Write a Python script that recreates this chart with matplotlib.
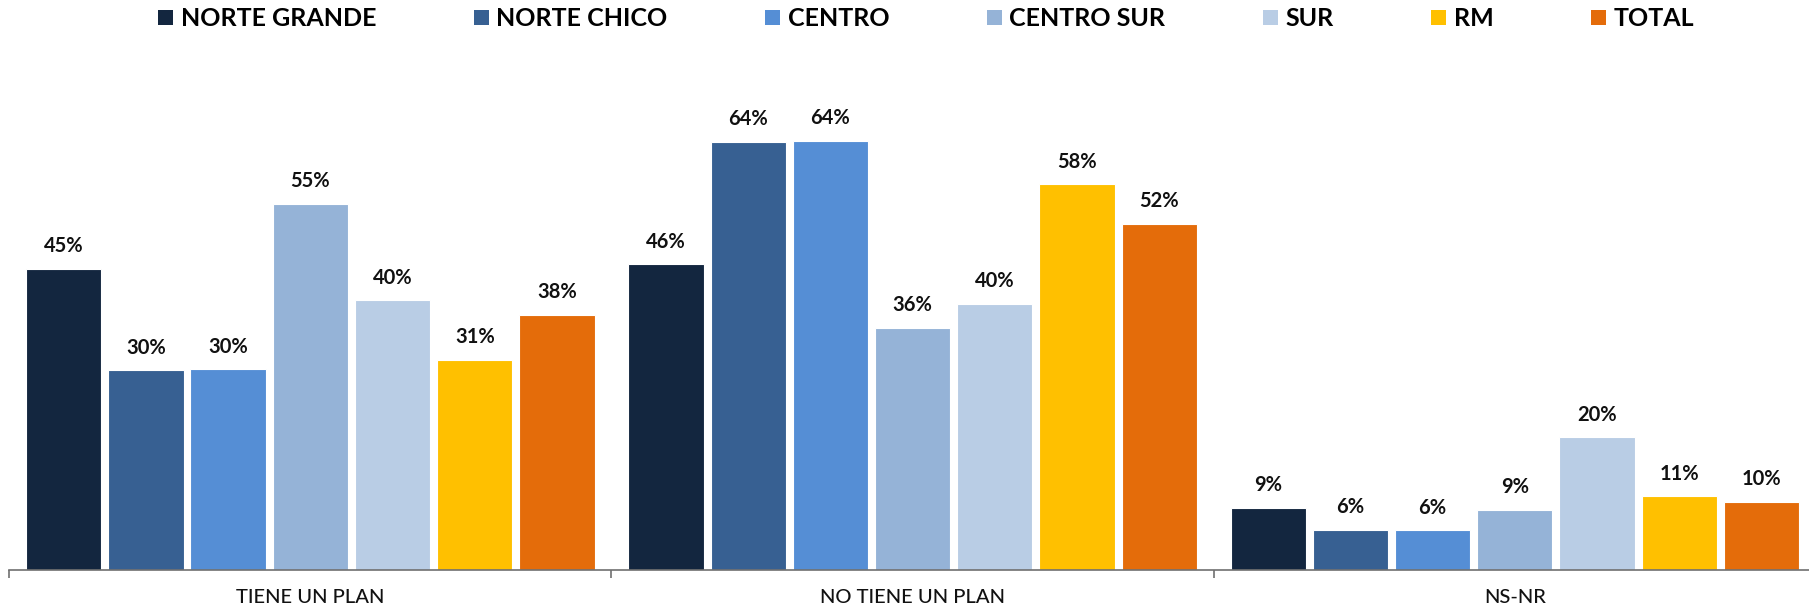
import matplotlib.pyplot as plt
import numpy as np
from matplotlib.patches import Patch

categories = ["TIENE UN PLAN", "NO TIENE UN PLAN", "NS-NR"]
series = ["NORTE GRANDE", "NORTE CHICO", "CENTRO", "CENTRO SUR", "SUR", "RM", "TOTAL"]
norte_grande = [45.0, 45.7, 9.3]
norte_chico = [29.8, 64.0, 6.0]
centro = [30.0, 64.1, 5.9]
centro_sur = [54.7, 36.2, 9.0]
sur = [40.3, 39.8, 19.8]
rm = [31.4, 57.6, 11.0]
total = [38.1, 51.7, 10.2]
values = [norte_grande, norte_chico, centro, centro_sur, sur, rm, total]
colors = ["#13263f", "#376092", "#558ed5", "#95b3d7", "#b9cde5", "#ffc000", "#e46c0a"]

plt.rcParams['font.family'] = ['Lato', 'DejaVu Sans']

fig = plt.figure(figsize=(18.09, 6.07), dpi=100)
ax = fig.add_axes([0.0051, 0.061, 0.9987, 0.772])

x = np.arange(len(categories))
pitch = 0.1365
width = 0.125
for i, (name, vals, c) in enumerate(zip(series, values, colors)):
    pos = x + (i - 3) * pitch
    bars = ax.bar(pos, vals, width, color=c, edgecolor="white", linewidth=0.8, label=name)
    for b, v in zip(bars, vals):
        ax.annotate(f"{v:.0f}%", (b.get_x() + b.get_width() / 2, v),
                    xytext=(0, 9), textcoords="offset points",
                    ha="center", va="bottom", fontsize=14.5, fontweight="bold", color="#111111")

ax.set_xlim(-0.5, 2.5)
ax.set_ylim(0, 70)
for s in ["top", "right", "left"]:
    ax.spines[s].set_visible(False)
ax.spines["bottom"].set_color("#707070")
ax.spines["bottom"].set_linewidth(1.2)
ax.set_yticks([])
ax.set_xticks(x)
ax.set_xticklabels(categories, fontsize=14.5, fontweight="medium", color="#111111")
ax.tick_params(axis="x", which="major", length=0, pad=14)
ax.set_xticks([-0.5, 0.5, 1.5, 2.5], minor=True)
ax.tick_params(axis="x", which="minor", length=6, width=1.2, color="#707070", direction="out")

handles = [Patch(facecolor=c, label=n) for n, c in zip(series, colors)]
fig.legend(handles=handles, loc="upper center", bbox_to_anchor=(0.512, 1.025), ncol=7,
           frameon=False, prop={"size": 18, "weight": "bold"}, handlelength=0.6,
           handleheight=0.6, handletextpad=0.3, columnspacing=3.9)

fig.savefig("out.png", dpi=100)
